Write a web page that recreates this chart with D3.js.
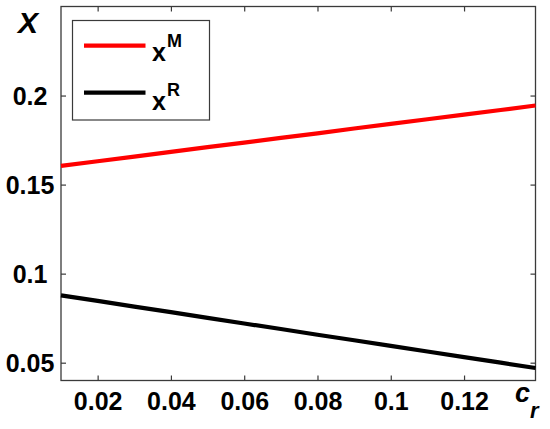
<!DOCTYPE html>
<html><head><meta charset="utf-8">
<script src="https://cdn.jsdelivr.net/npm/d3@7"></script>
<style>body{margin:0;background:#fff}svg{display:block}</style>
</head><body><svg id="c" width="550" height="429"></svg>
<script>
const cr = [0.01,0.02,0.03,0.04,0.05,0.06,0.07,0.08,0.09,0.10,0.11,0.12,0.13,0.1395];
const xM = [0.1605,0.1631,0.1657,0.1684,0.1710,0.1736,0.1762,0.1788,0.1815,0.1841,0.1867,0.1893,0.1919,0.1944];
const xR = [0.0878,0.0847,0.0815,0.0784,0.0752,0.0720,0.0689,0.0657,0.0626,0.0594,0.0563,0.0531,0.0500,0.0470];
const xTicks = [0.02,0.04,0.06,0.08,0.1,0.12];
const xTickLabels = ["0.02","0.04","0.06","0.08","0.1","0.12"];
const yTicks = [0.05,0.1,0.15,0.2];
const yTickLabels = ["0.05","0.1","0.15","0.2"];
const seriesNames = ["M","R"];
const seriesColors = ["#ff0000","#000000"];

const svg = d3.select("#c");
const L=61, R=535.5, T=6.5, B=380.5;
const x = d3.scaleLinear().domain([0.01,0.1395]).range([L,R]);
const y = d3.scaleLinear().domain([0.04,0.25]).range([B,T]);
const axisColor="#3a3a3a";
const font="'Liberation Sans', Arial, sans-serif";

// box
svg.append("rect").attr("x",L).attr("y",T).attr("width",R-L).attr("height",B-T)
  .attr("fill","none").attr("stroke",axisColor).attr("stroke-width",1.3);

function style(g){ g.select(".domain").remove(); g.selectAll(".tick line").attr("stroke",axisColor).attr("stroke-width",1.2); }

const gb = svg.append("g").attr("transform",`translate(0,${B})`)
  .call(d3.axisBottom(x).tickValues(xTicks).tickSize(-5).tickFormat((d,i)=>xTickLabels[i]));
style(gb);
gb.selectAll(".tick text").attr("y",29).attr("dy",0).attr("fill","#000")
  .style("font-family",font).style("font-size","25px").style("font-weight","bold");

const gt = svg.append("g").attr("transform",`translate(0,${T})`)
  .call(d3.axisTop(x).tickValues(xTicks).tickSize(-5).tickFormat(""));
style(gt);

const gl = svg.append("g").attr("transform",`translate(${L},0)`)
  .call(d3.axisLeft(y).tickValues(yTicks).tickSize(-5).tickFormat((d,i)=>yTickLabels[i]));
style(gl);
gl.selectAll(".tick text").attr("x",30-L).attr("dy",9).attr("text-anchor","middle").attr("fill","#000")
  .style("font-family",font).style("font-size","25px").style("font-weight","bold");

const gr = svg.append("g").attr("transform",`translate(${R},0)`)
  .call(d3.axisRight(y).tickValues(yTicks).tickSize(-5).tickFormat(""));
style(gr);

// lines
const line = d3.line();
[xM,xR].forEach((vals,k)=>{
  svg.append("path").attr("d",line(cr.map((c,i)=>[x(c),y(vals[i])])))
    .attr("fill","none").attr("stroke",seriesColors[k]).attr("stroke-width",4.2);
});

// axis labels
svg.append("text").attr("x",18).attr("y",33).text("X")
  .style("font-family",font).style("font-size","30px").style("font-weight","bold").style("font-style","italic");
const cl = svg.append("text").attr("x",515).attr("y",402)
  .style("font-family",font).style("font-weight","bold").style("font-style","italic");
cl.append("tspan").text("c").style("font-size","27px");
cl.append("tspan").attr("dy",16).text("r").style("font-size","22px");

// legend
svg.append("rect").attr("x",72.5).attr("y",20.5).attr("width",137).attr("height",99.5)
  .attr("fill","#fff").attr("stroke",axisColor).attr("stroke-width",1.2);
const legY=[45.7,92.7], legBase=[61,110];
seriesNames.forEach((n,k)=>{
  svg.append("line").attr("x1",84).attr("x2",145.5).attr("y1",legY[k]).attr("y2",legY[k])
    .attr("stroke",seriesColors[k]).attr("stroke-width",4.2);
  const t = svg.append("text").attr("x",152).attr("y",legBase[k])
    .style("font-family",font).style("font-weight","bold");
  t.append("tspan").text("x").style("font-size","25px");
  t.append("tspan").attr("dy",-14).attr("dx",1).text(n).style("font-size","18px");
});
</script></body></html>
